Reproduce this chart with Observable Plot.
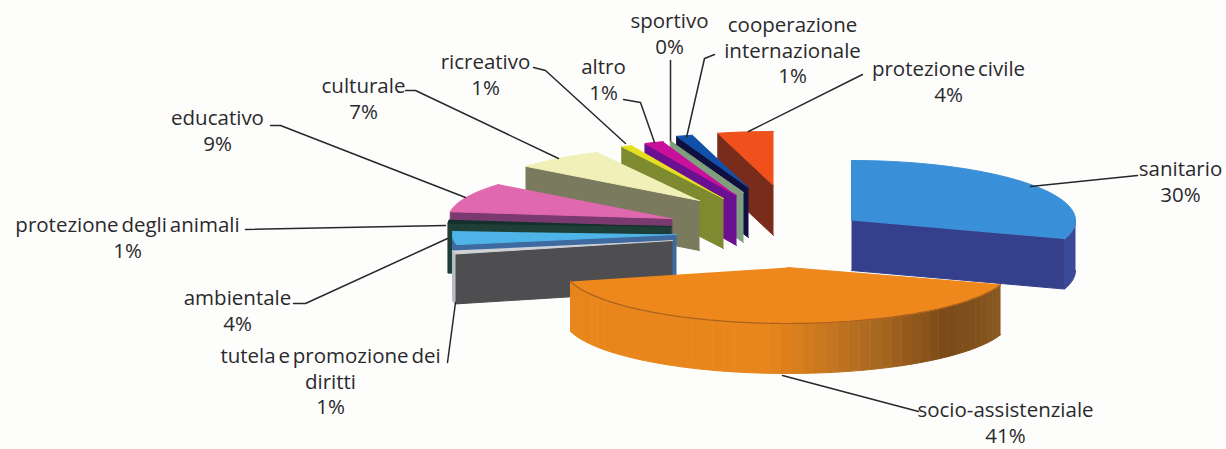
<!DOCTYPE html>
<html><head><meta charset="utf-8">
<style>html,body{margin:0;padding:0;background:#fdfdfc;overflow:hidden}
svg text{word-spacing:-2.5px}</style>
<script src="https://cdn.jsdelivr.net/npm/d3@7"></script>
<script src="https://cdn.jsdelivr.net/npm/@observablehq/plot@0.6"></script>
</head><body><div id="chart"></div>
<script>
// ---- data ----
const categories = ["sanitario","socio-assistenziale","tutela e promozione dei\ndiritti","ambientale","protezione degli animali","educativo","culturale","ricreativo","altro","sportivo","cooperazione\ninternazionale","protezione civile"];
const shares = [30, 41, 1, 4, 1, 8.9, 6.6, 0.8, 1.4, 0.1, 1.2, 4];

// ---- styling and layout of the exploded pie ----
const topColors  = ["#3a90d8","#ee881c","#cfd3d8","#4fb4e8","#14302b","#e068ae","#f0f0b8","#e6e020","#c8109a","#7a9a70","#1050a8","#f0501c"];
const wallColors = ["#34408c","#e8861c","#4e4e50","#3e6aa0","#1d3f38","#7a3a70","#7a7a5e","#7e8a30","#6a1090","#7f9f80","#101040","#7a2c1c"];
const rimColors  = ["#3b4a98","#e8861c","#b9bcc2","#3e6aa0","#1d3f38","#7a3a70","#7a7a5e","#7e8a30","#6a1090","#7f9f80","#101040","#7a2c1c"];
const apexX = [851,787,672,676,671,672,699,723,736,743,748,773];
const apexY = [220,267,240,234,226,218,200,198,195,192,187,185];
const radiusY = [60,56,54,54,54,54,54,58,57,54,54,54];
const radiusX = 224, depth = 50;
const labelX = [1180,1005,330,237,127,217,363,485,603,669,792,948];
const labelY = [180,421,380,309,236,129,97,73,78,32,49,80];
const leaders = [
  [[1030,186],[1137,175]],
  [[782,375],[918,411]],
  [[455,302],[447,362]],
  [[447,238],[305,303],[293,303]],
  [[445,225],[245,229]],
  [[465,197],[280,125],[270,125]],
  [[558,158],[415,90],[405,90]],
  [[625,143],[545,70],[533,67]],
  [[654,142],[640,102],[623,99]],
  [[670,140],[670,60]],
  [[686,137],[704,58],[714,54]],
  [[748,131],[862,74]]
];
const socioWallAngle = [108,135,160,185,256];
const socioWallColor = ["#8a5a22","#7a4a18","#b06c20","#e8861c","#e8861c"];
const socioShade = d3.scaleLinear(socioWallAngle, socioWallColor);

// ---- geometry derived from the shares ----
const rad = d => d * Math.PI / 180;
let acc = 0;
const slices = shares.map((s, i) => {
  const a0 = acc * 3.6; acc += s;
  return {i, a0, a1: acc * 3.6};
});
const pt = (sl, a, dz = 0) => ({
  x: apexX[sl.i] + radiusX * Math.sin(rad(a)),
  y: apexY[sl.i] - radiusY[sl.i] * Math.cos(rad(a)) + dz
});
const apex = (sl, dz = 0) => ({x: apexX[sl.i], y: apexY[sl.i] + dz});
const arcAngles = (a0, a1, step = 1.5) => {
  const n = Math.max(1, Math.ceil((a1 - a0) / step));
  return d3.range(n + 1).map(k => a0 + (a1 - a0) * k / n);
};

const polys = [];
let pid = 0;
const addPoly = (pts, color) => { const id = pid++; pts.forEach(p => polys.push({...p, id, color})); };

const order = [...d3.range(slices.length - 1, 1, -1), 0, 1];
for (const idx of order) {
  const sl = slices[idx];
  const wall = wallColors[idx];
  // visible cut faces
  if (sl.a0 > 180) addPoly([apex(sl), pt(sl, sl.a0), pt(sl, sl.a0, depth), apex(sl, depth)], wall);
  if (sl.a1 < 180) addPoly([apex(sl), pt(sl, sl.a1), pt(sl, sl.a1, depth), apex(sl, depth)], wall);
  // visible outer rim
  const lo = Math.max(sl.a0, 90), hi = Math.min(sl.a1, 270);
  if (hi > lo) {
    if (idx === 1) {
      const as = arcAngles(lo, hi, 3);
      for (let k = 0; k < as.length - 1; k++) {
        addPoly([pt(sl, as[k]), pt(sl, as[k + 1]), pt(sl, as[k + 1], depth), pt(sl, as[k], depth)],
                socioShade((as[k] + as[k + 1]) / 2));
      }
    } else {
      const as = arcAngles(lo, hi);
      addPoly([...as.map(a => pt(sl, a)), ...as.slice().reverse().map(a => pt(sl, a, depth))], rimColors[idx]);
    }
  }
  // top face
  addPoly([apex(sl), ...arcAngles(sl.a0, sl.a1).map(a => pt(sl, a))], topColors[idx]);
}

// darker front edge of the large orange top face
const socio = slices[1];
const socioEdge = arcAngles(socio.a0, socio.a1).map(a => pt(socio, a));

const leaderRows = leaders.flatMap((l, id) => l.map(([x, y]) => ({x, y, id})));
const labels = categories.map((c, i) => ({
  text: `${c}\n${Math.round(shares[i])}%`, x: labelX[i], y: labelY[i]
}));

const chart = Plot.plot({
  width: 1226, height: 449, margin: 0,
  style: {background: "#fdfdfc"},
  x: {domain: [0, 1226], range: [0, 1226], axis: null},
  y: {domain: [0, 449], range: [0, 449], axis: null},
  color: {type: "identity"},
  marks: [
    Plot.line(polys, {x: "x", y: "y", z: "id", fill: "color", stroke: "color", strokeWidth: 1, curve: "linear"}),
    Plot.line(socioEdge, {x: "x", y: "y", stroke: "#a8621c", strokeWidth: 1.2, curve: "linear"}),
    Plot.line(leaderRows, {x: "x", y: "y", z: "id", stroke: "#26282a", strokeWidth: 1.5, curve: "linear"}),
    Plot.text(labels, {x: "x", y: "y", text: "text", fill: "#2a2a2c", fontSize: 20.5, lineHeight: 1.25,
      fontFamily: "'Open Sans', sans-serif", textAnchor: "middle"})
  ]
});
document.getElementById("chart").appendChild(chart);
</script></body></html>
